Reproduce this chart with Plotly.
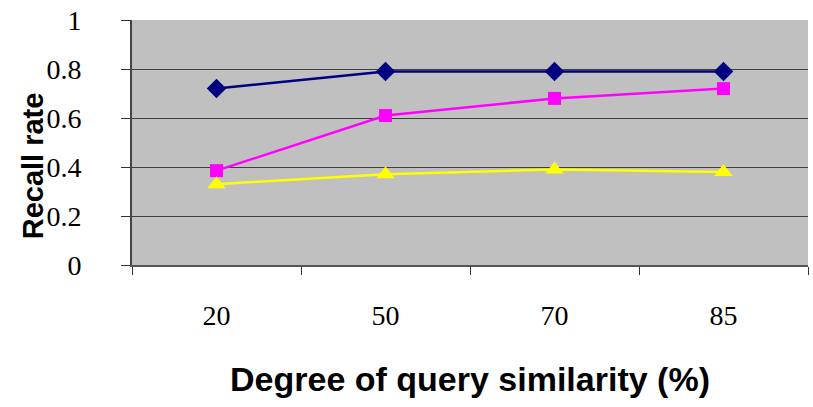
import plotly.graph_objects as go

categories = ["20", "50", "70", "85"]
series_a = [0.72, 0.79, 0.79, 0.79]
series_b = [0.385, 0.61, 0.68, 0.72]
series_c = [0.33, 0.37, 0.39, 0.38]
y_ticks = [0, 0.2, 0.4, 0.6, 0.8, 1]
y_tick_labels = ["0", "0.2", "0.4", "0.6", "0.8", "1"]

fig = go.Figure()
fig.add_trace(go.Scatter(x=categories, y=series_a, mode="lines+markers",
                         line=dict(color="#000080", width=2.5),
                         marker=dict(symbol="diamond", size=15, color="#000080")))
fig.add_trace(go.Scatter(x=categories, y=series_b, mode="lines+markers",
                         line=dict(color="#FF00FF", width=2.5),
                         marker=dict(symbol="square", size=13, color="#FF00FF")))
fig.add_trace(go.Scatter(x=categories, y=series_c, mode="lines+markers",
                         line=dict(color="#FFFF00", width=2.5),
                         marker=dict(symbol="triangle-up", size=16, color="#FFFF00")))

sans = "Arial, Liberation Sans, sans-serif"
serif = "Liberation Serif"

fig.update_layout(
    width=813, height=407,
    margin=dict(l=132, r=5, t=17, b=142),
    paper_bgcolor="white",
    plot_bgcolor="#C0C0C0",
    showlegend=False,
    xaxis=dict(
        type="category",
        tickson="boundaries",
        ticks="outside", ticklen=8, tickcolor="#333", tickwidth=1,
        showline=True, linecolor="#555", linewidth=2,
        showgrid=False,
        range=[-0.5, 3.5],
        tickfont=dict(family=serif, size=28, color="black"),
        ticklabelstandoff=24,
        title=dict(text="<b>Degree of query similarity (%)</b>",
                   font=dict(family=sans, size=34, color="black"),
                   standoff=38),
    ),
    yaxis=dict(
        range=[0, 1],
        tickvals=y_ticks, ticktext=y_tick_labels,
        ticks="outside", ticklen=9, tickcolor="#333",
        showline=True, linecolor="#444", linewidth=2,
        showgrid=True, gridcolor="#404040", gridwidth=1,
        zeroline=False,
        tickfont=dict(family=serif, size=28, color="black"),
        ticklabelstandoff=34,
    ),
    annotations=[dict(
        text="<b>Recall rate</b>",
        xref="paper", yref="paper",
        x=-0.1464, y=0.403,
        xanchor="center", yanchor="middle",
        textangle=-90, showarrow=False,
        font=dict(family=sans, size=29, color="black"),
    )],
)

fig.write_html("out.html")
